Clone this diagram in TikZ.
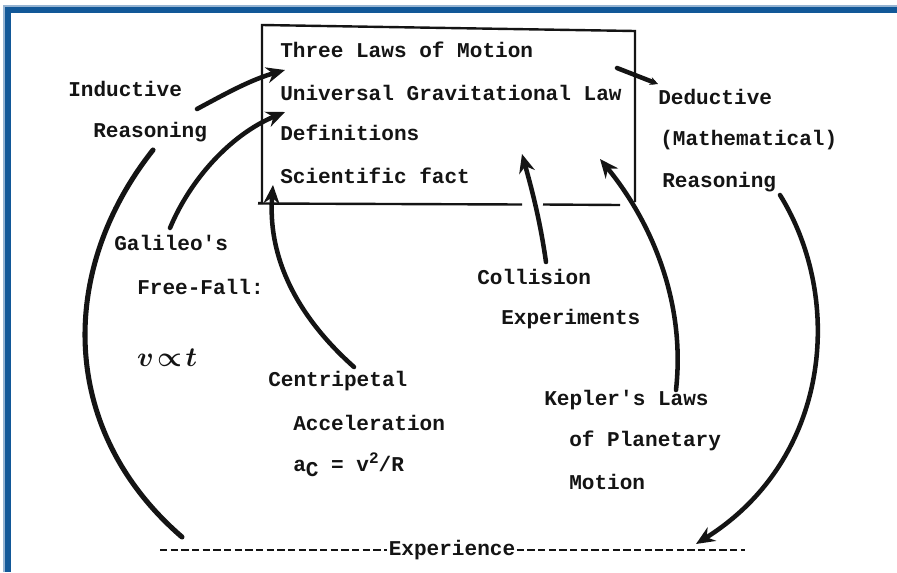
\documentclass[tikz,border=0pt]{standalone}
\usepackage{fontspec}
\newfontfamily\tw{Liberation Mono}
\usetikzlibrary{arrows.meta}
\definecolor{frameblue}{RGB}{18,88,152}
\definecolor{framelight}{RGB}{150,180,210}
\definecolor{ink}{RGB}{20,20,20}
\tikzset{
  lbl/.style={anchor=west,inner sep=0pt,font=\tw\bfseries\fontsize{15.8}{16}\selectfont,text=ink},
  thick arrow/.style={line width=3.4pt,draw=ink,line cap=round,-{Stealth[length=14pt,width=12pt]}},
  thick line/.style={line width=3.8pt,draw=ink,line cap=round},
  boxline/.style={line width=1.8pt,draw=ink}
}
\begin{document}
\begin{tikzpicture}[x=0.75pt,y=-0.75pt]
\useasboundingbox (0,0) rectangle (897,572);
\fill[white] (0,0) rectangle (897,572);
% blue frame
\fill[framelight] (3,5) rectangle (897,7);
\fill[framelight] (3,5) rectangle (5,572);
\fill[frameblue] (5,7) rectangle (897,12.5);
\fill[frameblue] (5,7) rectangle (10.5,572);

% box
\draw[boxline] (258,203) -- (262,203) -- (262,25) -- (635,31) -- (635,202);
\draw[boxline] (258,203.5) -- (522,204.5);
\draw[boxline] (543,204.5) -- (620,205);

% box texts
\node[lbl] (laws) at (280,50) {Three Laws of Motion};
\node[lbl] (ugl) at (280,93) {Universal Gravitational Law};
\node[lbl] (defs) at (280,133) {Definitions};
\node[lbl] (fact) at (280,176) {Scientific fact};

% other texts
\node[lbl] (ind1) at (68,89) {Inductive};
\node[lbl] (ind2) at (93,132) {Reasoning};
\node[lbl] (gal1) at (114,243) {Galileo's};
\node[lbl] (gal2) at (137,287) {Free-Fall:};
\node[inner sep=0pt,font=\fontsize{22}{22}\selectfont\boldmath,text=ink] (gal3) at (167,358) {$v\!\propto\! t$};
\node[lbl] (cen1) at (268,381) {Centripetal};
\node[lbl] (cen2) at (293,423) {Acceleration};
\node[lbl] (cen3) at (293,465) {a\raisebox{-0.45ex}{C} = v\raisebox{0.7ex}{\fontsize{12}{12}\selectfont 2}/R};
\node[lbl] (col1) at (477,277) {Collision};
\node[lbl] (col2) at (501,319) {Experiments};
\node[lbl] (kep1) at (544,400) {Kepler's Laws};
\node[lbl] (kep2) at (569,441) {of Planetary};
\node[lbl] (kep3) at (569,482) {Motion};
\node[lbl] (ded1) at (658,97) {Deductive};
\node[lbl] (ded2) at (660,140) {(Mathematical)};
\node[lbl] (ded3) at (662,182) {Reasoning};
\node[anchor=center,inner sep=1pt,font=\tw\bfseries\fontsize{15.8}{16}\selectfont,text=ink] (exp) at (452,550) {Experience};

% experience line
\coordinate (expL) at (160,550);
\coordinate (expR) at (745,550);
\draw[ink,line width=1.5pt,dash pattern=on 5.5pt off 2.5pt] (expL) -- (exp.west);
\draw[ink,line width=1.5pt,dash pattern=on 5.5pt off 2.5pt] (exp.east) -- (expR);

% connector end points
\coordinate (indT) at (197,109);
\coordinate (indH) at (285,70);
\coordinate (galT) at (170,228);
\coordinate (galH) at (285,112);
\coordinate (arcTop) at (153,150);
\coordinate (arcBot) at (182,537);
\coordinate (cenT) at (354,367);
\coordinate (cenH) at (273,185);
\coordinate (colT) at (546,262);
\coordinate (colH) at (522,154);
\coordinate (kepT) at (676,390);
\coordinate (kepH) at (600,159);
\coordinate (dedA) at (617,68);
\coordinate (dedB) at (658,84);
\coordinate (dedT) at (780,195);
\coordinate (dedH) at (696,544);

% connectors
\draw[thick arrow] (indT) .. controls (225,94) and (250,80) .. (indH);
\draw[thick arrow] (galT) .. controls (190,180) and (230,135) .. (galH);
\draw[thick line] (arcTop) .. controls (58,270) and (58,430) .. (arcBot);
\draw[thick arrow] (cenT) .. controls (290,310) and (268,250) .. (cenH);
\draw[thick arrow] (colT) .. controls (540,220) and (532,190) .. (colH);
\draw[thick arrow] (kepT) .. controls (686,300) and (650,220) .. (kepH);
\draw[line width=3.4pt,draw=ink,line cap=round,-{Stealth[length=6pt,width=6pt]}] (dedA) -- (dedB);
\draw[thick arrow] (dedT) .. controls (845,300) and (830,460) .. (dedH);
\end{tikzpicture}
\end{document}
